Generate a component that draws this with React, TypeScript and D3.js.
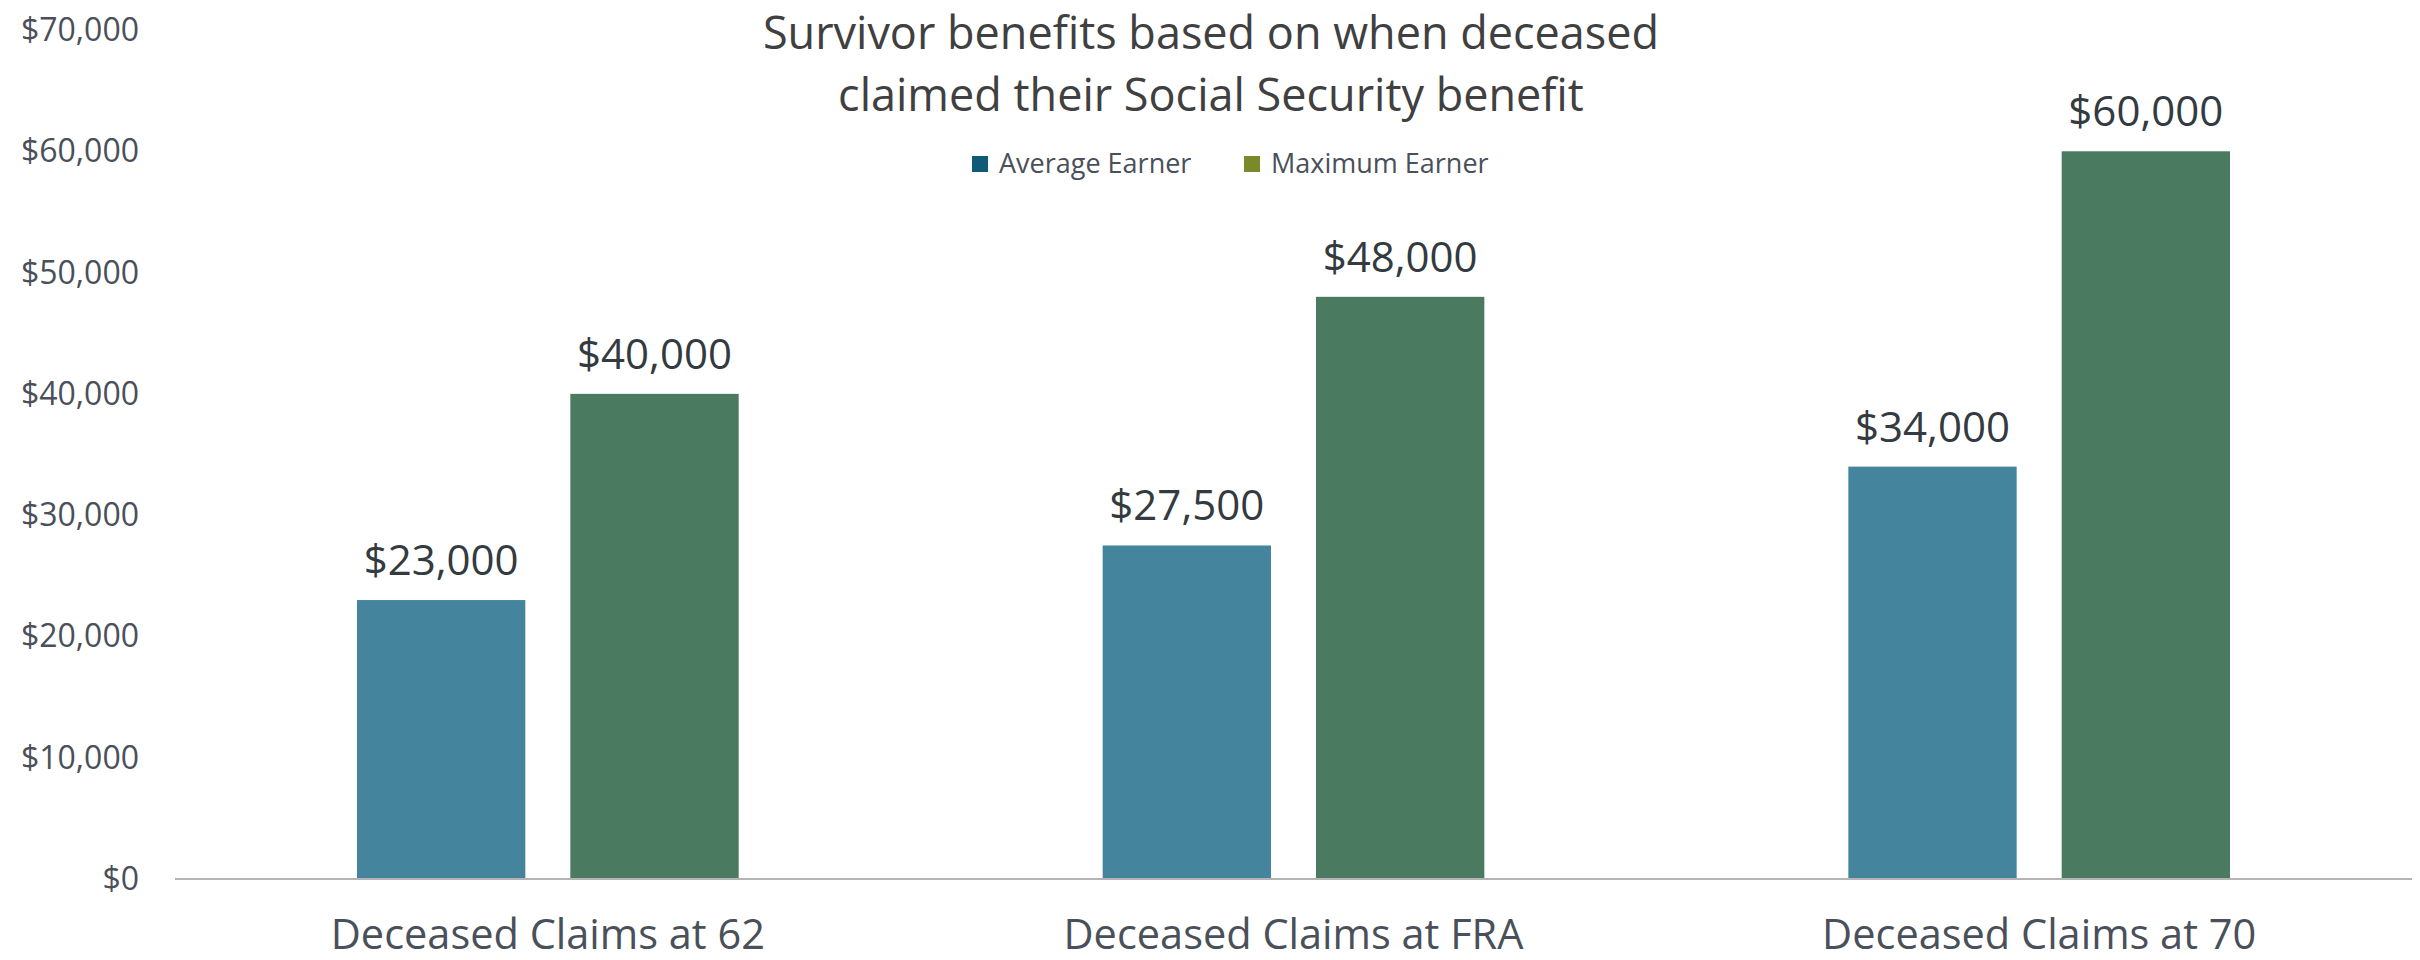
import React from "react";
import * as d3 from "d3";

const categories = ["Deceased Claims at 62", "Deceased Claims at FRA", "Deceased Claims at 70"];
const seriesNames = ["Average Earner", "Maximum Earner"];
const averageEarner = [23000, 27500, 34000];
const maximumEarner = [40000, 48000, 60000];
const yTicks = [0, 10000, 20000, 30000, 40000, 50000, 60000, 70000];
const titleLines = ["Survivor benefits based on when deceased", "claimed their Social Security benefit"];

const barColors = ["#44859d", "#4a7a5f"];
const legendColors = ["#0e5a78", "#7a8a2a"];

const W = 2420;
const H = 960;
const font = "'Open Sans', sans-serif";

const money = (v: number) => "$" + d3.format(",")(v);

const T = ({ x, y, size, fill, anchor = "middle", children }: any) => (
  <text x={x} y={y} fontSize={size} fill={fill} textAnchor={anchor} fontFamily={font}>
    {children}
  </text>
);

export default function App() {
  const x0 = d3.scaleBand<string>().domain(categories).range([175, 2412]);
  const x1 = d3
    .scaleBand<string>()
    .domain(seriesNames)
    .range([182, x0.bandwidth() - 182])
    .paddingInner(0.211);
  const y = d3.scaleLinear().domain([0, 70000]).range([879, 30]);

  const series = [averageEarner, maximumEarner];

  return (
    <svg
      width={W}
      height={H}
      style={{ position: "absolute", left: 0, top: 0, background: "#fff" }}
    >
      {titleLines.map((t, i) => (
        <T key={t} x={1211} y={49 + i * 62} size={45} fill="#404040">
          {t}
        </T>
      ))}

      {/* legend */}
      {seriesNames.map((s, i) => {
        const lx = [972, 1244][i];
        return (
          <g key={s}>
            <rect x={lx} y={156} width={16} height={16} fill={legendColors[i]} />
            <T x={lx + 27} y={173} size={27} fill="#4a505a" anchor="start">
              {s}
            </T>
          </g>
        );
      })}

      {/* y axis labels */}
      {yTicks.map((t) => (
        <T key={t} x={139} y={y(t) + 11} size={32} fill="#4a505a" anchor="end">
          {money(t)}
        </T>
      ))}

      {/* bars */}
      {categories.map((c, ci) => (
        <g key={c} transform={`translate(${x0(c)},0)`}>
          {seriesNames.map((s, si) => {
            const v = series[si][ci];
            const bx = x1(s) as number;
            return (
              <g key={s}>
                <rect
                  x={bx}
                  y={y(v)}
                  width={x1.bandwidth()}
                  height={y(0) - y(v)}
                  fill={barColors[si]}
                />
                <T x={bx + x1.bandwidth() / 2} y={y(v) - 25} size={42} fill="#333a40">
                  {money(v)}
                </T>
              </g>
            );
          })}
          <T x={x0.bandwidth() / 2} y={949} size={41.5} fill="#4a505a">
            {c}
          </T>
        </g>
      ))}

      {/* baseline */}
      <line x1={175} x2={2412} y1={y(0)} y2={y(0)} stroke="#b4b4b4" strokeWidth={2} />
    </svg>
  );
}
